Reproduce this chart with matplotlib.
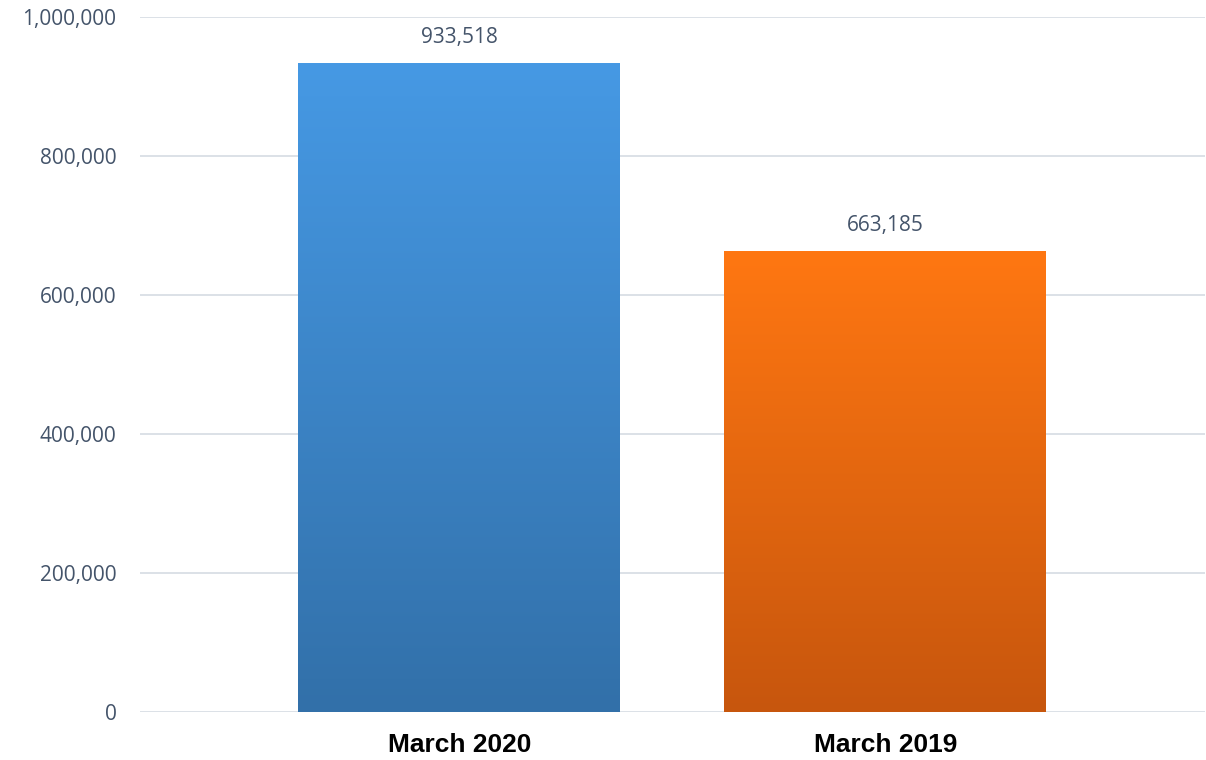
import numpy as np
import matplotlib.pyplot as plt
from matplotlib.colors import LinearSegmentedColormap
from matplotlib.ticker import FuncFormatter

categories = ["March 2020", "March 2019"]
values = [933518, 663185]
yticks = [0, 200000, 400000, 600000, 800000, 1000000]

# top colour, bottom colour for each bar
bar_colors = [("#4699E4", "#3270A9"), ("#FF7712", "#C7560D")]

TEXT = "#44546A"

fig = plt.figure(figsize=(12.06, 7.6), dpi=100)
ax = fig.add_axes([0.1161, 0.0632, 0.8829, 0.9144])

x = np.arange(len(categories))
bars = ax.bar(x, values, width=0.756, color="none", zorder=3)

# vertical gradient fills clipped to each bar
grad = np.linspace(1, 0, 256).reshape(-1, 1)
for b, (top, bottom) in zip(bars, bar_colors):
    cmap = LinearSegmentedColormap.from_list("g", [bottom, top])
    x0, y0 = b.get_x(), b.get_y()
    im = ax.imshow(grad, cmap=cmap, aspect="auto", vmin=0, vmax=1,
                   extent=[x0, x0 + b.get_width(), y0, y0 + b.get_height()],
                   zorder=3)
    im.set_clip_path(b)

ax.set_xlim(-0.75, 1.75)
ax.set_ylim(0, 1000000)

for b, v in zip(bars, values):
    ax.annotate(f"{v:,}", (b.get_x() + b.get_width() / 2, v),
                xytext=(0, 14.5), textcoords="offset points",
                ha="center", va="baseline", fontsize=15, color=TEXT,
                family="Open Sans")

ax.set_yticks(yticks)
ax.yaxis.set_major_formatter(FuncFormatter(lambda v, p: f"{int(v):,}"))
ax.set_xticks(x)
ax.set_xticklabels(categories, fontsize=19, fontweight="bold",
                   family="Liberation Sans", color="black")
for t in ax.get_yticklabels():
    t.set_family("Open Sans")
    t.set_fontsize(15)
    t.set_color(TEXT)

ax.tick_params(axis="y", length=0, pad=17)
ax.tick_params(axis="x", length=0, pad=15)
ax.grid(axis="y", color="#D9DEE5", linewidth=1.3, zorder=0)
ax.set_axisbelow(True)
for s in ax.spines.values():
    s.set_visible(False)

fig.savefig("out.png", dpi=100)
